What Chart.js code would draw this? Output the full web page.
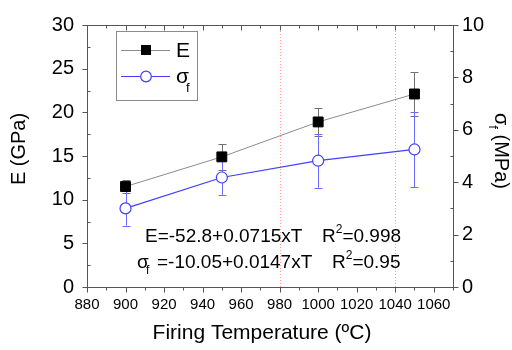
<!DOCTYPE html>
<html><head><meta charset="utf-8">
<script src="https://cdn.jsdelivr.net/npm/chart.js@4"></script>
<style>html,body{margin:0;padding:0;background:#fff}#c{display:block}</style>
</head><body>
<canvas id="c" width="512" height="350"></canvas>
<script>
// ---- data ----
const temperatures = [900, 950, 1000, 1050];
const modulusE = [11.5, 14.9, 18.9, 22.1];
const modulusErr = [0.73, 1.45, 1.6, 2.48];
const strength = [3.0, 4.18, 4.82, 5.25];
const strengthErr = [0.66, 0.66, 1.03, 1.44];
const guideTemps = [980, 1040];
const xTickValues = [880, 900, 920, 940, 960, 980, 1000, 1020, 1040, 1060];
const xMinorStep = 10;
const leftTickValues = [0, 5, 10, 15, 20, 25, 30];
const leftMinorStep = 2.5;
const rightTickValues = [0, 2, 4, 6, 8, 10];
const rightMinorStep = 1;
const eqE = "E=-52.8+0.0715xT";
const eqS = "=-10.05+0.0147xT";
const r2E = "=0.998";
const r2S = "=0.95";

const FAM = "'Liberation Sans', Arial, Helvetica, sans-serif";
const AXIS = '#555';

function line(ctx, x1, y1, x2, y2) { ctx.beginPath(); ctx.moveTo(x1, y1); ctx.lineTo(x2, y2); ctx.stroke(); }

function drawErr(ctx, xs, vals, errs, xScale, yScale, color) {
  ctx.strokeStyle = color; ctx.lineWidth = 1;
  xs.forEach((t, i) => {
    const px = Math.round(xScale.getPixelForValue(t)) + 0.5;
    const top = yScale.getPixelForValue(vals[i] + errs[i]);
    const bot = yScale.getPixelForValue(vals[i] - errs[i]);
    line(ctx, px, top, px, bot);
    line(ctx, px - 4, Math.round(top) + 0.5, px + 4, Math.round(top) + 0.5);
    line(ctx, px - 4, Math.round(bot) + 0.5, px + 4, Math.round(bot) + 0.5);
  });
}

const decor = {
  id: 'decor',
  beforeDatasetsDraw(chart) {
    const { ctx, chartArea: a, scales: { x, y, y1 } } = chart;
    ctx.save();
    ctx.strokeStyle = 'rgba(255,140,140,0.85)'; ctx.lineWidth = 1; ctx.setLineDash([1, 2]);
    guideTemps.forEach(t => { const px = Math.round(x.getPixelForValue(t)) + 0.5; line(ctx, px, a.top, px, a.bottom); });
    ctx.setLineDash([]);
    drawErr(ctx, temperatures, modulusE, modulusErr, x, y, '#707070');
    drawErr(ctx, temperatures, strength, strengthErr, x, y1, '#6a6aff');
    ctx.restore();
  },
  afterDatasetsDraw(chart) {
    const { ctx, chartArea: a, scales: { x, y, y1 } } = chart;
    ctx.save();
    // frame
    ctx.strokeStyle = AXIS; ctx.lineWidth = 1;
    const L = Math.round(a.left) + 0.5, R = Math.round(a.right) + 0.5, T = Math.round(a.top) + 0.5, B = Math.round(a.bottom) + 0.5;
    ctx.strokeRect(L, T, R - L, B - T);
    // x ticks
    for (let v = x.min; v <= x.max + 1e-6; v += xMinorStep) {
      const px = Math.round(x.getPixelForValue(v)) + 0.5;
      const major = xTickValues.includes(v);
      const len = major ? 5 : 3;
      line(ctx, px, B, px, B + len);
      line(ctx, px, T, px, T + len);
    }
    // left ticks
    for (let v = y.min; v <= y.max + 1e-6; v += leftMinorStep) {
      const py = Math.round(y.getPixelForValue(v)) + 0.5;
      const major = leftTickValues.includes(v);
      if (major) line(ctx, L - 5, py, L, py); else line(ctx, L, py, L + 3, py);
    }
    // right ticks
    for (let v = y1.min; v <= y1.max + 1e-6; v += rightMinorStep) {
      const py = Math.round(y1.getPixelForValue(v)) + 0.5;
      const major = rightTickValues.includes(v);
      if (major) line(ctx, R, py, R + 5, py); else line(ctx, R - 3, py, R, py);
    }

    // legend
    ctx.strokeStyle = '#8a8a8a'; ctx.lineWidth = 1;
    ctx.strokeRect(116.5, 31.5, 81, 69);
    ctx.strokeStyle = '#8c8c8c';
    line(ctx, 121, 50.5, 170, 50.5);
    ctx.fillStyle = '#000'; ctx.fillRect(141, 45, 10, 10);
    ctx.strokeStyle = '#3f3fff';
    line(ctx, 121, 76.5, 170, 76.5);
    ctx.beginPath(); ctx.arc(146, 76.5, 5.3, 0, Math.PI * 2); ctx.fillStyle = '#fff'; ctx.fill(); ctx.lineWidth = 1.2; ctx.stroke();
    ctx.fillStyle = '#000'; ctx.textBaseline = 'alphabetic'; ctx.textAlign = 'left';
    ctx.font = '21px ' + FAM; ctx.fillText('E', 176, 57);
    ctx.fillText('σ', 176, 83);
    ctx.font = '13px ' + FAM; ctx.fillText('f', 186, 92);

    // equations
    ctx.font = '19px ' + FAM;
    ctx.fillText(eqE, 145, 242);
    ctx.fillText('R', 322, 242);
    let rw = ctx.measureText('R').width;
    ctx.font = '12px ' + FAM; ctx.fillText('2', 322 + rw, 233);
    let sw = ctx.measureText('2').width;
    ctx.font = '19px ' + FAM; ctx.fillText(r2E, 322 + rw + sw, 242);

    ctx.fillText('σ', 137, 268);
    ctx.font = '12px ' + FAM; ctx.fillText('f', 146, 274);
    ctx.font = '19px ' + FAM; ctx.fillText(eqS, 157, 268);
    ctx.fillText('R', 332, 268);
    rw = ctx.measureText('R').width;
    ctx.font = '12px ' + FAM; ctx.fillText('2', 332 + rw, 259);
    sw = ctx.measureText('2').width;
    ctx.font = '19px ' + FAM; ctx.fillText(r2S, 332 + rw + sw, 268);

    // axis titles
    ctx.font = '21px ' + FAM; ctx.textAlign = 'center'; ctx.textBaseline = 'alphabetic';
    ctx.fillText('Firing Temperature (ºC)', 262, 339);
    ctx.save();
    ctx.translate(25, 149); ctx.rotate(-Math.PI / 2);
    ctx.font = '20px ' + FAM; ctx.fillText('E (GPa)', 0, 0);
    ctx.restore();
    ctx.save();
    ctx.translate(495, 113); ctx.rotate(Math.PI / 2);
    ctx.textAlign = 'left';
    ctx.font = '20px ' + FAM; ctx.fillText('σ', 0, 0);
    const s1 = ctx.measureText('σ').width;
    ctx.font = '13px ' + FAM; ctx.fillText('f', s1, 6);
    const s2 = ctx.measureText('f').width;
    ctx.font = '20px ' + FAM; ctx.fillText(' (MPa)', s1 + s2, 0);
    ctx.restore();
    ctx.restore();
  }
};

const tickFontY = { family: FAM, size: 20 };
const plainLabel = v => String(v);
new Chart(document.getElementById('c'), {
  type: 'scatter',
  data: {
    datasets: [
      {
        label: 'E', yAxisID: 'y', showLine: true,
        data: temperatures.map((t, i) => ({ x: t, y: modulusE[i] })),
        borderColor: '#8c8c8c', borderWidth: 1,
        pointStyle: 'rect', pointRadius: 7, pointHoverRadius: 7,
        pointBackgroundColor: '#000', pointBorderColor: '#000', pointBorderWidth: 1
      },
      {
        label: 'σf', yAxisID: 'y1', showLine: true,
        data: temperatures.map((t, i) => ({ x: t, y: strength[i] })),
        borderColor: '#3f3fff', borderWidth: 1.2,
        pointStyle: 'circle', pointRadius: 5.5, pointHoverRadius: 5.5,
        pointBackgroundColor: '#fff', pointBorderColor: '#3f3fff', pointBorderWidth: 1.2
      }
    ]
  },
  options: {
    responsive: false, animation: false, devicePixelRatio: 1,
    layout: { padding: { top: 15, left: 0, right: 0, bottom: 0 } },
    plugins: { legend: { display: false }, tooltip: { enabled: false } },
    scales: {
      x: {
        type: 'linear', position: 'bottom', min: 880, max: 1070,
        afterBuildTicks: s => { s.ticks = xTickValues.map(v => ({ value: v })); },
        afterFit: s => { s.height = 63; },
        grid: { display: false, drawTicks: false }, border: { display: false },
        ticks: { padding: 9, color: '#000', font: { family: FAM, size: 15 }, maxRotation: 0, autoSkip: false, callback: plainLabel }
      },
      y: {
        type: 'linear', position: 'left', min: 0, max: 30,
        afterBuildTicks: s => { s.ticks = leftTickValues.map(v => ({ value: v })); },
        afterFit: s => { s.width = 87; },
        grid: { display: false, drawTicks: false }, border: { display: false },
        ticks: { padding: 13, color: '#000', font: tickFontY, callback: plainLabel }
      },
      y1: {
        type: 'linear', position: 'right', min: 0, max: 10,
        afterBuildTicks: s => { s.ticks = rightTickValues.map(v => ({ value: v })); },
        afterFit: s => { s.width = 59; },
        grid: { display: false, drawTicks: false }, border: { display: false },
        ticks: { padding: 9, color: '#000', font: tickFontY, callback: plainLabel }
      }
    }
  },
  plugins: [decor]
});
</script>
</body></html>
